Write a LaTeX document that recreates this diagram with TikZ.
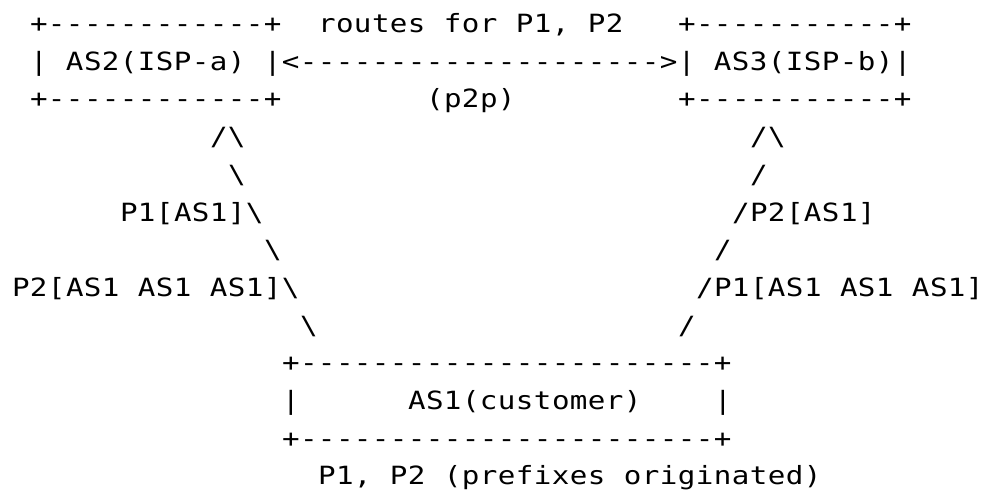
\documentclass[tikz,border=0pt]{standalone}
\usepackage{graphicx}
\usepackage{fontspec}
\setmonofont{DejaVu Sans Mono}
\makeatletter
\newcommand\mono[1]{\@tfor\mch:=#1\do{\makebox[9pt]{\mch}}}
\makeatother
\newcommand\row[1]{\scalebox{1}[0.86]{\mono{#1}}}
\newcommand\asciifont{\ttfamily\fontsize{14.6pt}{17pt}\selectfont}
\newcommand\bs{\textbackslash}
\tikzset{ascii/.style={anchor=base west, inner sep=0pt, outer sep=0pt, font=\asciifont, text=black}}
\begin{document}
\begin{tikzpicture}[x=9pt, y=-18.85pt]
\useasboundingbox[fill=white] (-5.9pt,16.25pt) rectangle (486.6pt,-228.25pt);
% line 1
\node[ascii] (as2top) at (1,0) {\row{+------------+}};
\node[ascii] (routes) at (17,0) {\row{routes~for~P1,~P2}};
\node[ascii] (as3top) at (37,0) {\row{+-----------+}};
% line 2
\node[ascii] (midline) at (1,1) {\row{|~AS2(ISP-a)~|<-------------------->|~AS3(ISP-b)|}};
% line 3
\node[ascii] (as2bot) at (1,2) {\row{+------------+}};
\node[ascii] (p2p) at (23,2) {\row{(p2p)}};
\node[ascii] (as3bot) at (37,2) {\row{+-----------+}};
% line 4
\node[ascii] (lpeak) at (11,3) {\row{/\bs}};
\node[ascii] (rpeak) at (41,3) {\row{/\bs}};
% line 5
\node[ascii] (l5) at (12,4) {\row{\bs}};
\node[ascii] (r5) at (41,4) {\row{/}};
% line 6
\node[ascii] (l6) at (6,5) {\row{P1[AS1]\bs}};
\node[ascii] (r6) at (40,5) {\row{/P2[AS1]}};
% line 7
\node[ascii] (l7) at (14,6) {\row{\bs}};
\node[ascii] (r7) at (39,6) {\row{/}};
% line 8
\node[ascii] (l8) at (0,7) {\row{P2[AS1~AS1~AS1]\bs}};
\node[ascii] (r8) at (38,7) {\row{/P1[AS1~AS1~AS1]}};
% line 9
\node[ascii] (l9) at (16,8) {\row{\bs}};
\node[ascii] (r9) at (37,8) {\row{/}};
% line 10-12
\node[ascii] (as1top) at (15,9) {\row{+-----------------------+}};
\node[ascii] (as1l) at (15,10) {\row{|}};
\node[ascii] (as1) at (22,10) {\row{AS1(customer)}};
\node[ascii] (as1r) at (39,10) {\row{|}};
\node[ascii] (as1bot) at (15,11) {\row{+-----------------------+}};
% line 13
\node[ascii] (orig) at (17,12) {\row{P1,~P2~(prefixes~originated)}};
\end{tikzpicture}
\end{document}
